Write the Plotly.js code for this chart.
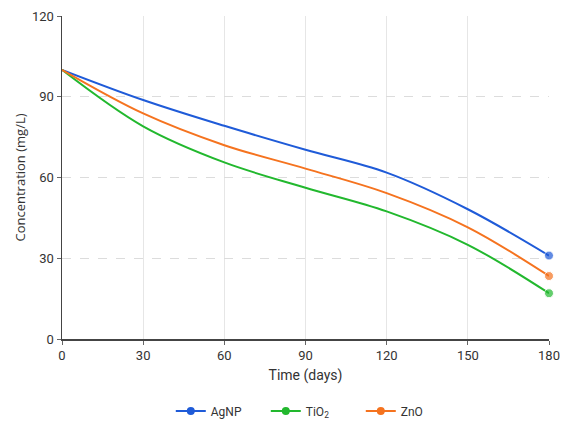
<!DOCTYPE html>
<html>
<head>
<meta charset="utf-8">
<script src="https://cdn.plot.ly/plotly-3.0.1.min.js"></script>
<style>html,body{margin:0;padding:0;background:#fff;}#chart{width:565px;height:426px;}</style>
</head>
<body>
<div id="chart"></div>
<script>
var days = [0, 30, 60, 90, 120, 150, 180];
var agnp = [100, 88.8, 79.2, 70.3, 61.8, 48.2, 31.0];
var tio2 = [100, 79.0, 65.6, 56.2, 47.4, 35.0, 17.0];
var zno  = [100, 83.8, 72.0, 63.3, 54.2, 41.5, 23.4];
var names = ['AgNP', 'TiO<sub>2</sub>', 'ZnO'];
var series = [agnp, tio2, zno];
var colors = ['#1f5bd8', '#22b82e', '#f5731f'];

var traces = [];
series.forEach(function(s, i) {
  var sizes = days.map(function(d, j){ return j === days.length - 1 ? 9 : 0; });
  traces.push({
    x: days, y: s, type: 'scatter', mode: 'lines+markers', cliponaxis: false,
    line: {color: colors[i], width: 2, shape: 'spline', smoothing: 1},
    marker: {color: colors[i], size: sizes},
    showlegend: false, hoverinfo: 'skip'
  });
});
series.forEach(function(s, i) {
  traces.push({
    x: [null], y: [null], type: 'scatter', mode: 'lines+markers', name: names[i],
    line: {color: colors[i], width: 2}, marker: {color: colors[i], size: 8},
    showlegend: true
  });
});

var layout = {
  width: 565, height: 426,
  margin: {l: 62, r: 16, t: 16, b: 87, autoexpand: false},
  paper_bgcolor: '#fff', plot_bgcolor: '#fff',
  font: {family: 'Roboto, Inter, sans-serif', color: '#333', size: 12},
  xaxis: {
    range: [0, 180], tickvals: [0, 30, 60, 90, 120, 150, 180],
    showgrid: true, gridcolor: '#e6e6e6', gridwidth: 1, griddash: 'solid',
    showline: true, linecolor: '#444', linewidth: 1.5,
    ticks: 'outside', ticklen: 4, tickcolor: '#666',
    zeroline: false, tickfont: {size: 13, color: '#333'},
    title: {text: 'Time (days)', font: {size: 14, color: '#333'}, standoff: 8}
  },
  yaxis: {
    range: [0, 120], tickvals: [0, 30, 60, 90, 120],
    showgrid: true, gridcolor: '#dcdcdc', gridwidth: 1, griddash: 'dash',
    showline: true, linecolor: '#444', linewidth: 1.5,
    ticks: 'outside', ticklen: 4, tickcolor: '#666',
    zeroline: false, tickfont: {size: 13, color: '#333'},
    title: {text: 'Concentration (mg/L)', font: {family: '"Open Sans", sans-serif', size: 13, color: '#333'}, standoff: 3}
  },
  legend: {
    orientation: 'h', x: 0.516, xanchor: 'center', xref: 'paper',
    y: 0.035, yanchor: 'middle', yref: 'container',
    font: {size: 12, color: '#333'}, itemwidth: 30, entrywidth: 50, entrywidthmode: 'pixels',
    traceorder: 'normal'
  },
  showlegend: true
};

Plotly.newPlot('chart', traces, layout, {displayModeBar: false, staticPlot: true});
</script>
</body>
</html>
